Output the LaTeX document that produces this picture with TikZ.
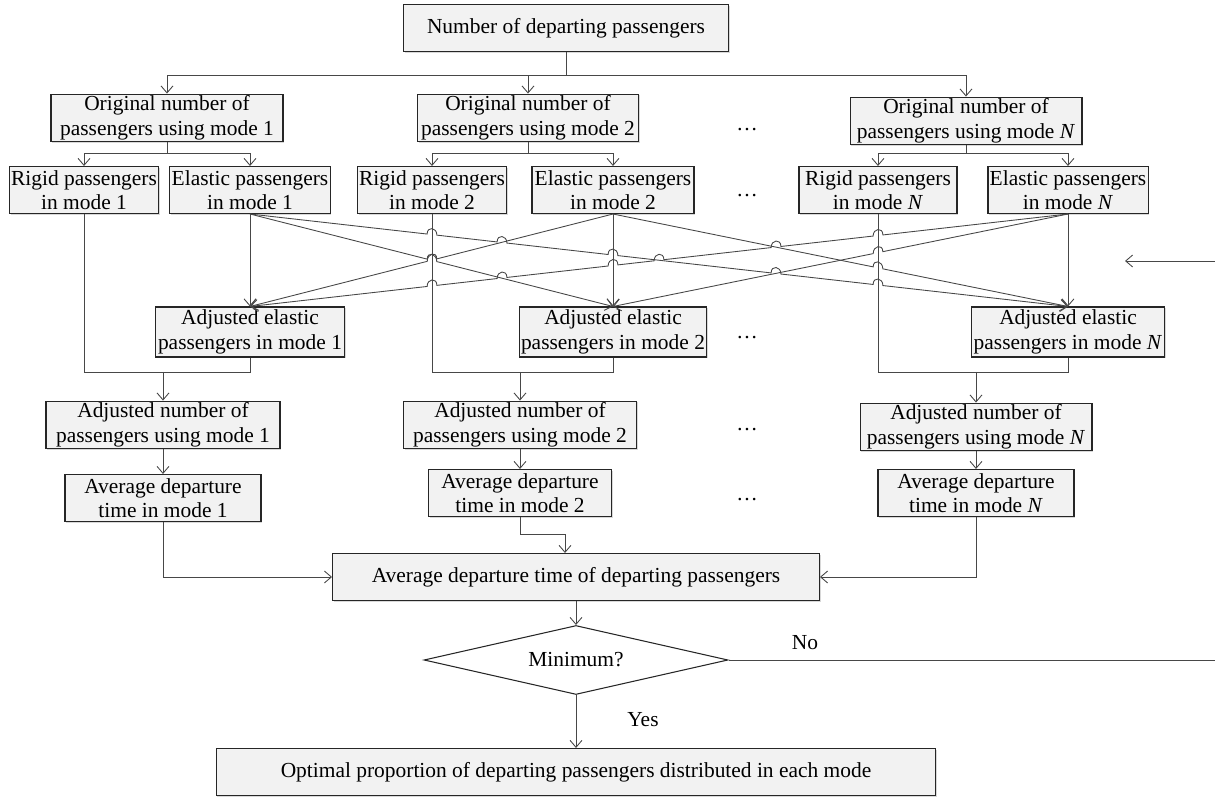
\documentclass[tikz,border=0pt]{standalone}
\usepackage{fontspec}
\setmainfont{Liberation Serif}
\usetikzlibrary{arrows.meta,calc,shapes.geometric,shadows}

\tikzset{
  line/.style={draw=black!72, line width=0.5pt},
  arr/.style={line, -{Straight Barb[length=1.4mm,width=2.4mm]}},
  txt/.style={font=\fontsize{12.2}{14}\selectfont},
  box/.style={txt, draw=black!85, line width=0.6pt, fill=black!5, align=center,
    inner sep=1pt, minimum height=0.94cm,
    drop shadow={shadow xshift=0.7pt, shadow yshift=-0.7pt, fill=black!30, opacity=0.5}},
  decision/.style={txt, diamond, aspect=4.4, draw=black!85, line width=0.6pt, fill=white,
    inner sep=0pt, minimum width=6.08cm, minimum height=1.38cm},
}

% line from #1 to #2 that jumps over the crossings at x = #3
\newcommand{\hopline}[3]{%
  \draw[arr] (#1) \foreach \hx in {#3}{
    -- ($(intersection of #1--#2 and \hx,0--\hx,800)!2.8pt!(#1)$)
    .. controls +(0,-8) and +(0,-8) ..
    ($(intersection of #1--#2 and \hx,0--\hx,800)!2.8pt!(#2)$)
  } -- (#2);
}

\begin{document}
\begin{tikzpicture}[x=0.02cm, y=-0.02cm]
\useasboundingbox (0,0) rectangle (1215,797);

\node[box, minimum width=6.5cm] (top) at (566,28) {Number of departing passengers};

% original numbers
\node[box, minimum width=4.64cm] (orig1) at (167,118) {Original number of\\passengers using mode 1};
\node[box, minimum width=4.42cm] (orig2) at (528,118) {Original number of\\passengers using mode 2};
\node[box, minimum width=4.64cm] (origN) at (966,121) {Original number of\\passengers using mode \textit{N}};

% rigid and elastic
\node[box, minimum width=2.96cm] (rig1) at (84,190) {Rigid passengers\\in mode 1};
\node[box, minimum width=3.12cm] (ela1) at (250,190) {Elastic passengers\\in mode 1};
\node[box, minimum width=2.92cm] (rig2) at (432,190) {Rigid passengers\\in mode 2};
\node[box, minimum width=3.24cm] (ela2) at (613,190) {Elastic passengers\\in mode 2};
\node[box, minimum width=3.16cm] (rigN) at (878,190) {Rigid passengers\\in mode \textit{N}};
\node[box, minimum width=3.18cm] (elaN) at (1068,190) {Elastic passengers\\in mode \textit{N}};

% adjusted elastic
\node[box, minimum width=3.78cm, minimum height=1cm] (ae1) at (250,332) {Adjusted elastic\\passengers in mode 1};
\node[box, minimum width=3.72cm, minimum height=1cm] (ae2) at (613,332) {Adjusted elastic\\passengers in mode 2};
\node[box, minimum width=3.86cm, minimum height=1cm] (aeN) at (1068,332) {Adjusted elastic\\passengers in mode \textit{N}};

% adjusted numbers
\node[box, minimum width=4.68cm] (an1) at (163,425) {Adjusted number of\\passengers using mode 1};
\node[box, minimum width=4.66cm] (an2) at (520,425) {Adjusted number of\\passengers using mode 2};
\node[box, minimum width=4.64cm] (anN) at (976,427) {Adjusted number of\\passengers using mode \textit{N}};

% average departure times
\node[box, minimum width=3.92cm] (av1) at (163,498) {Average departure\\time in mode 1};
\node[box, minimum width=3.66cm] (av2) at (520,493) {Average departure\\time in mode 2};
\node[box, minimum width=3.92cm] (avN) at (976,493) {Average departure\\time in mode \textit{N}};

\node[box, minimum width=9.74cm] (tot) at (576,577) {Average departure time of departing passengers};
\node[decision] (dia) at (576,660) {Minimum?};
\node[box, minimum width=14.4cm] (opt) at (576,772) {Optimal proportion of departing passengers distributed in each mode};

\node[txt] (no) at (805,643) {No};
\node[txt] (yes) at (643,720) {Yes};

\foreach \y/\n in {130/1,196/2,338/3,430/4,500/5}
  \node[txt] (dots\n) at (747,\y) {\dots};

% junctions
\coordinate (b0) at (566,75);
\coordinate (b1) at (167,153);
\coordinate (b2) at (528,153);
\coordinate (bN) at (966,153);
\coordinate (j1) at (163,372);
\coordinate (j2) at (520,372);
\coordinate (jN) at (976,372);
\coordinate (j5) at (565,534);
\coordinate (rt) at (1219,660);
\coordinate (fb) at (1125,261);

\draw[line] (top) -- (b0);
\draw[arr] (b0) -| (orig1);
\draw[arr] (b0) -| (orig2);
\draw[arr] (b0) -| (origN);

\draw[line] (orig1) -- (b1);
\draw[arr] (b1) -| (rig1);
\draw[arr] (b1) -| (ela1);
\draw[line] (orig2) -- (b2);
\draw[arr] (b2) -| (rig2);
\draw[arr] (b2) -| (ela2);
\draw[line] (origN) -- (bN);
\draw[arr] (bN) -| (rigN);
\draw[arr] (bN) -| (elaN);

% elastic passengers to every mode
\draw[arr] (ela1) -- (ae1);
\draw[arr] (ela2) -- (ae2);
\draw[arr] (elaN) -- (aeN);
\hopline{ela1.south}{ae2.north}{432}
\hopline{ela1.south}{aeN.north}{432,502,613,776,878}
\hopline{ela2.south}{ae1.north}{432}
\hopline{ela2.south}{aeN.north}{878}
\hopline{elaN.south}{ae1.north}{878,776,659,613,502,432}
\hopline{elaN.south}{ae2.north}{878}

% rigid + adjusted elastic
\draw[line] (rig1) |- (j1 -| ae1) -- (ae1);
\draw[line] (rig2) |- (j2 -| ae2) -- (ae2);
\draw[line] (rigN) |- (jN -| aeN) -- (aeN);
\draw[arr] (j1) -- (an1);
\draw[arr] (j2) -- (an2);
\draw[arr] (jN) -- (anN);

\draw[arr] (an1) -- (av1);
\draw[arr] (an2) -- (av2);
\draw[arr] (anN) -- (avN);

\draw[arr] (av1) |- (tot);
\draw[arr] (avN) |- (tot);
\draw[arr] (av2) |- (j5) -- (j5 |- tot.north);

\draw[arr] (tot) -- (dia);
\draw[arr] (dia) -- (opt);
\draw[arr] (dia.east) -- (rt) |- (fb);
\end{tikzpicture}
\end{document}
